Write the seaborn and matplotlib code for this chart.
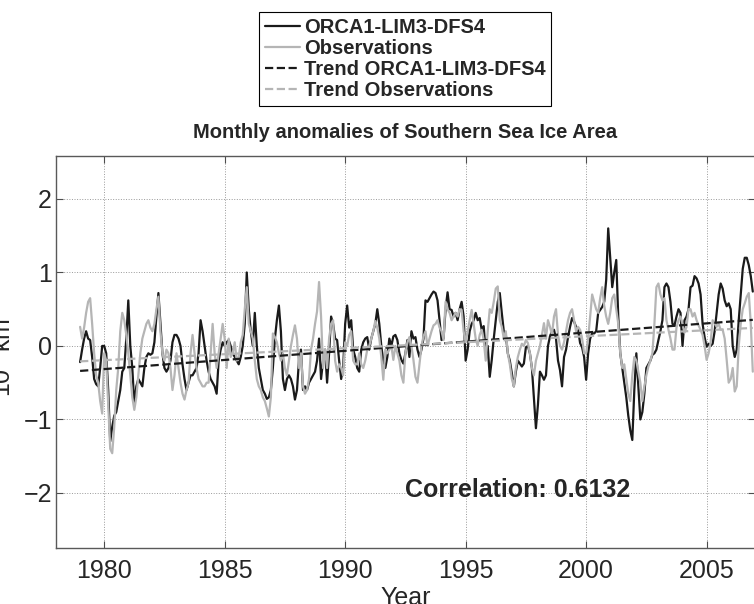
import numpy as np
import pandas as pd
import matplotlib
matplotlib.use("Agg")
import matplotlib.pyplot as plt
import seaborn as sns

# Monthly anomalies (10^6 km^2), Jan 1979 - Dec 2006
model_anom = [
    -0.22, -0.05, 0.10, 0.20, 0.10, 0.08, -0.15, -0.45, -0.52, -0.55, -0.30, 0.00,   # 1979
    0.00, -0.10, -0.60, -1.30, -1.10, -0.95, -0.90, -0.75, -0.60, -0.35, -0.30, 0.10,  # 1980
    0.62, 0.00, -0.30, -0.80, -0.55, -0.45, -0.50, -0.55, -0.30, -0.15, -0.10, -0.12,  # 1981
    -0.10, 0.05, 0.40, 0.72, 0.30, -0.10, -0.30, -0.35, -0.30, -0.20, 0.05, 0.15,     # 1982
    0.15, 0.10, 0.00, -0.25, -0.45, -0.60, -0.50, -0.40, -0.40, -0.35, -0.30, -0.10,  # 1983
    0.35, 0.20, 0.00, -0.20, -0.35, -0.45, -0.50, -0.55, -0.65, -0.20, -0.05, 0.05,   # 1984
    0.00, 0.05, 0.08, 0.00, -0.10, -0.15, -0.20, -0.25, -0.15, 0.00, 0.30, 1.00,      # 1985
    0.50, 0.20, 0.00, 0.45, 0.00, -0.30, -0.45, -0.60, -0.65, -0.72, -0.70, -0.60,    # 1986
    -0.30, 0.10, 0.35, 0.55, 0.20, -0.45, -0.60, -0.45, -0.40, -0.45, -0.55, -0.73,   # 1987
    -0.60, -0.20, -0.05, -0.60, -0.55, -0.60, -0.50, -0.45, -0.40, -0.35, -0.20, 0.10, # 1988
    -0.45, -0.20, -0.05, -0.50, -0.10, 0.40, 0.30, 0.10, 0.08, -0.20, -0.45, -0.30,   # 1989
    0.30, 0.55, 0.25, 0.35, -0.05, -0.15, -0.30, -0.35, -0.05, 0.05, 0.10, 0.12,      # 1990
    -0.05, 0.10, 0.20, 0.30, 0.50, 0.30, 0.00, -0.20, -0.30, -0.15, 0.10, 0.00,       # 1991
    0.13, 0.15, 0.08, -0.10, -0.19, -0.24, -0.10, 0.08, -0.15, 0.20, 0.10, 0.12,      # 1992
    -0.05, -0.15, -0.05, 0.10, 0.62, 0.60, 0.65, 0.70, 0.74, 0.72, 0.62, 0.35,        # 1993
    0.08, 0.10, 0.50, 0.73, 0.50, 0.49, 0.40, 0.45, 0.35, 0.50, 0.60, 0.40,           # 1994
    -0.20, -0.05, 0.20, 0.30, 0.35, 0.45, 0.35, 0.38, 0.22, 0.27, -0.10, 0.00,        # 1995
    -0.42, -0.19, 0.10, 0.35, 0.60, 0.72, 0.45, 0.20, 0.15, -0.10, -0.20, -0.37,      # 1996
    -0.55, -0.35, -0.20, -0.24, -0.28, -0.24, -0.02, 0.00, -0.10, -0.30, -0.70, -1.12, # 1997
    -0.80, -0.35, -0.40, -0.46, -0.40, 0.00, 0.13, 0.20, 0.22, 0.10, -0.20, -0.33,    # 1998
    -0.55, -0.15, -0.05, 0.12, 0.26, 0.38, 0.33, 0.26, 0.22, 0.04, -0.02, -0.15,      # 1999
    -0.46, -0.10, 0.10, 0.17, 0.17, 0.20, 0.45, 0.49, 0.53, 0.60, 0.90, 1.60,         # 2000
    1.20, 0.80, 1.00, 1.17, 0.40, -0.10, -0.30, -0.50, -0.70, -0.95, -1.15, -1.28,    # 2001
    -0.60, -0.10, -0.55, -1.00, -0.90, -0.65, -0.30, -0.25, -0.20, -0.12, -0.10, -0.05, # 2002
    0.08, 0.20, 0.35, 0.80, 0.85, 0.80, 0.60, 0.30, 0.28, 0.40, 0.50, 0.45,           # 2003
    0.00, 0.35, 0.40, 0.50, 0.80, 0.82, 0.95, 0.92, 0.85, 0.70, 0.30, 0.12,           # 2004
    -0.01, 0.03, 0.00, 0.03, 0.20, 0.45, 0.70, 0.85, 0.78, 0.62, 0.54, 0.58,          # 2005
    0.50, 0.00, -0.15, -0.05, 0.35, 0.70, 1.05, 1.20, 1.20, 1.10, 0.95, 0.74,         # 2006
]

obs_anom = [
    0.26, 0.10, 0.25, 0.45, 0.60, 0.65, 0.30, -0.10, -0.40, -0.50, -0.75, -0.92,      # 1979
    -0.10, -0.20, -0.80, -1.40, -1.46, -1.10, -0.60, -0.30, 0.20, 0.45, 0.35, 0.15,   # 1980
    -0.10, -0.40, -0.70, -0.87, -0.70, -0.40, -0.10, 0.10, 0.20, 0.30, 0.35, 0.25,    # 1981
    0.20, 0.30, 0.50, 0.67, 0.20, -0.10, -0.20, -0.05, -0.10, -0.30, -0.60, -0.40,    # 1982
    -0.10, -0.30, -0.50, -0.65, -0.73, -0.60, -0.50, -0.10, 0.15, -0.10, -0.30, -0.45, # 1983
    -0.50, -0.55, -0.55, -0.50, -0.50, -0.10, 0.30, -0.10, -0.30, -0.10, 0.10, 0.30,  # 1984
    0.10, -0.30, 0.10, -0.15, -0.10, 0.05, -0.20, -0.15, 0.05, 0.15, 0.50, 0.80,      # 1985
    0.30, 0.20, 0.10, -0.20, -0.45, -0.55, -0.60, -0.70, -0.75, -0.85, -0.96, -0.70,  # 1986
    0.17, 0.12, 0.05, -0.10, -0.20, -0.10, -0.30, -0.40, -0.20, 0.00, 0.15, 0.28,     # 1987
    0.10, -0.30, -0.10, -0.55, -0.65, -0.60, -0.45, -0.05, 0.10, 0.30, 0.47, 0.87,    # 1988
    0.40, -0.30, -0.05, -0.30, 0.10, 0.30, 0.35, -0.20, -0.35, -0.25, -0.30, -0.40,   # 1989
    0.05, 0.00, 0.15, 0.20, -0.20, -0.25, -0.25, -0.10, -0.25, -0.30, -0.20, -0.05,   # 1990
    0.00, 0.10, 0.20, 0.34, 0.25, 0.10, -0.15, -0.46, -0.05, -0.10, -0.05, 0.00,      # 1991
    -0.19, 0.00, -0.10, -0.20, -0.40, -0.50, -0.10, 0.05, 0.12, 0.00, -0.19, -0.42,   # 1992
    -0.50, -0.25, 0.00, 0.13, 0.20, 0.00, 0.10, 0.20, 0.28, 0.30, 0.35, 0.25,         # 1993
    0.20, 0.08, 0.60, 0.50, 0.45, 0.35, 0.40, 0.45, 0.40, 0.50, 0.49, 0.20,           # 1994
    0.05, 0.20, 0.35, 0.49, 0.30, 0.10, 0.00, 0.15, 0.22, 0.08, -0.20, 0.20,          # 1995
    0.50, 0.45, 0.60, 0.78, 0.81, 0.35, 0.26, 0.10, 0.20, -0.10, -0.25, -0.45,        # 1996
    -0.55, -0.30, -0.15, -0.05, 0.03, 0.00, 0.08, 0.04, -0.10, -0.30, -0.40, -0.20,   # 1997
    -0.10, 0.00, 0.15, 0.31, 0.10, 0.35, 0.26, 0.15, 0.40, 0.50, 0.15, 0.00,          # 1998
    -0.05, 0.05, 0.20, 0.35, 0.45, 0.50, 0.35, 0.20, 0.26, 0.22, 0.10, -0.10,         # 1999
    -0.10, 0.10, 0.40, 0.70, 0.60, 0.50, 0.45, 0.65, 0.80, 0.55, 0.40, 0.30,          # 2000
    0.45, 0.65, 0.70, 0.50, 0.30, -0.10, -0.30, -0.25, -0.45, -0.65, -0.75, -0.40,    # 2001
    -0.15, -0.20, -0.35, -0.50, -0.75, -0.55, -0.40, -0.28, -0.20, -0.10, 0.30, 0.80, # 2002
    0.85, 0.70, 0.62, 0.65, 0.35, 0.22, 0.10, -0.05, -0.05, 0.25, 0.35, 0.40,         # 2003
    0.30, 0.18, 0.26, 0.50, 0.50, 0.40, 0.45, 0.35, 0.28, 0.22, 0.15, 0.00,           # 2004
    -0.19, -0.10, 0.05, 0.35, 0.31, 0.26, 0.30, 0.22, 0.22, 0.10, -0.19, -0.50,       # 2005
    -0.45, -0.30, -0.62, -0.55, 0.00, 0.30, 0.50, 0.58, 0.67, 0.72, 0.30, -0.35,      # 2006
]

# linear trends (end points)
trend_years = [1979.0, 2006.917]
trend_model = [-0.34, 0.355]
trend_obs = [-0.21, 0.245]

correlation = 0.6132
xtick_years = [1980, 1985, 1990, 1995, 2000, 2005]
ytick_vals = [-2, -1, 0, 1, 2]

years = 1979 + np.arange(len(model_anom)) / 12.0
df = pd.DataFrame({'Year': years, 'model': model_anom, 'obs': obs_anom})

sns.set_style("ticks")
plt.rcParams['font.family'] = ['Liberation Sans', 'DejaVu Sans']
plt.rcParams['mathtext.fontset'] = 'custom'
plt.rcParams['mathtext.rm'] = 'Liberation Sans'

fig = plt.figure(figsize=(7.54, 6.04), dpi=100)
ax = fig.add_axes([56 / 754, 1 - 548 / 604, 698.8 / 754, 392 / 604])

sns.lineplot(data=df, x='Year', y='model', ax=ax, color='#1a1a1a', lw=1.6,
             label='ORCA1-LIM3-DFS4')
sns.lineplot(data=df, x='Year', y='obs', ax=ax, color='#b5b5b5', lw=1.6,
             label='Observations')
sns.lineplot(x=trend_years, y=trend_model, ax=ax, color='#1a1a1a', lw=1.6,
             linestyle='--', label='Trend ORCA1-LIM3-DFS4')
sns.lineplot(x=trend_years, y=trend_obs, ax=ax, color='#b5b5b5', lw=1.6,
             linestyle='--', label='Trend Observations')

ax.set_xlim(1978, 2007)
ax.set_ylim(-2.75, 2.585)
ax.set_xticks(xtick_years)
ax.set_yticks(ytick_vals)
ax.grid(True, linestyle=':', color='0.6', lw=0.7)
ax.tick_params(direction='in', length=5, width=0.8, color='0.3', top=True,
               right=True, labelsize=18)
ax.tick_params(axis='x', pad=8)
ax.tick_params(axis='y', pad=3)
for sp in ax.spines.values():
    sp.set_color('0.35')
    sp.set_linewidth(1.0)

ax.set_xlabel('Year', fontsize=18, labelpad=2)
ax.set_ylabel('10$^6$ km$^2$', fontsize=18)
ax.yaxis.set_label_coords(-0.057, 0.5)
ax.set_title('Monthly anomalies of Southern Sea Ice Area', fontsize=14.5,
             fontweight='bold', pad=13)

ax.text(1992.48, -2.05, 'Correlation: %.4f' % correlation, fontsize=18,
        fontweight='bold', va='baseline')

handles, labels = ax.get_legend_handles_labels()
ax.get_legend().remove()
leg = fig.legend(handles, labels, loc='upper center',
                 bbox_to_anchor=(405 / 754, 1 - 12 / 604),
                 prop={'size': 14.5, 'weight': 'bold'}, frameon=True,
                 fancybox=False, framealpha=1, edgecolor='black',
                 handlelength=1.75, handletextpad=0.2, labelspacing=0.1,
                 borderpad=0.3, borderaxespad=0)
leg.get_frame().set_linewidth(0.8)

fig.savefig('out.png', dpi=100)
